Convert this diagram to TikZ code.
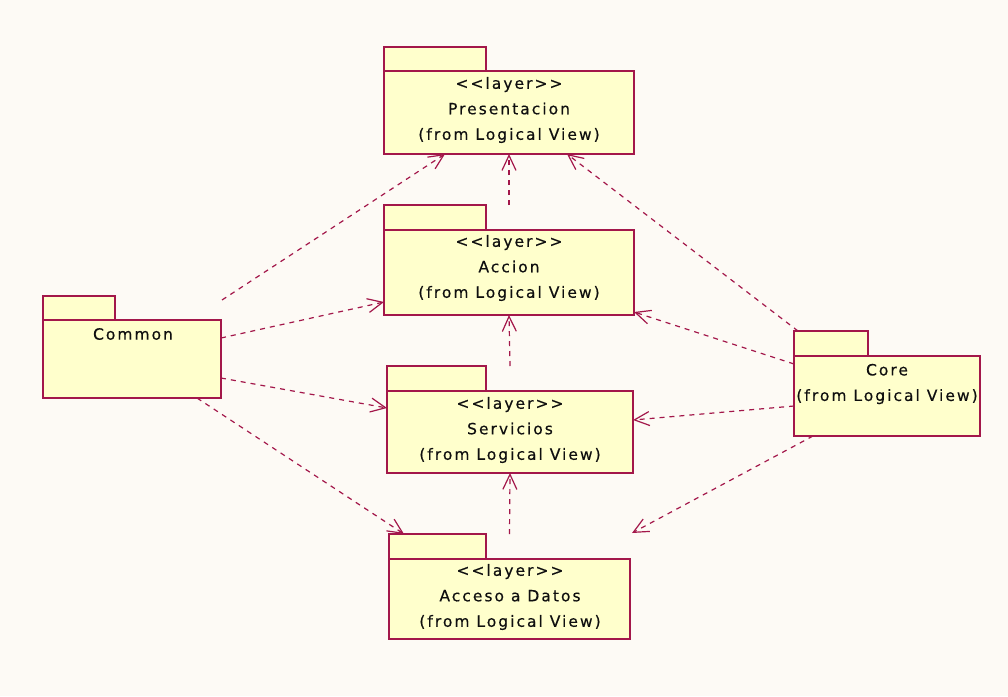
\documentclass[tikz,border=0pt]{standalone}
\usepackage{fontspec}
\setmainfont{DejaVu Sans}[LetterSpace=13, FakeBold=0.4]
\usetikzlibrary{arrows.meta}
\definecolor{pkline}{RGB}{163,23,74}
\definecolor{pkfill}{RGB}{255,255,204}
\definecolor{paper}{RGB}{253,250,245}
\definecolor{ink}{RGB}{15,15,15}
\tikzset{
  pkbody/.style={draw=pkline, fill=pkfill, line width=2pt, inner sep=0pt, outer sep=0pt, anchor=north west},
  pktab/.style={draw=pkline, fill=pkfill, line width=2pt, inner sep=0pt, outer sep=0pt, anchor=south west},
  lbl/.style={font=\fontsize{15.5}{25.5}\selectfont, text=ink, align=center, inner sep=0pt},
  dep/.style={draw=pkline, line width=1.2pt, dash pattern=on 5pt off 5pt,
    -{Straight Barb[length=15pt,width=14pt,line width=1.2pt]}}
}
\begin{document}
\begin{tikzpicture}[x=1pt,y=-1pt]
\fill[paper] (0,0) rectangle (1008,696);
\useasboundingbox (0,0) rectangle (1008,696);

% layer packages
\node[pkbody, minimum width=250pt, minimum height=83pt] (pres) at (384,71) {};
\node[pktab, minimum width=102pt, minimum height=24pt] (presTab) at (pres.north west) {};
\node[lbl] (presL) at (509,110) {<{}<layer>{}>\\Presentacion\\(from Logical View)};

\node[pkbody, minimum width=250pt, minimum height=85pt] (acc) at (384,230) {};
\node[pktab, minimum width=102pt, minimum height=25pt] (accTab) at (acc.north west) {};
\node[lbl] (accL) at (509,268) {<{}<layer>{}>\\Accion\\(from Logical View)};

\node[pkbody, minimum width=246pt, minimum height=82pt] (serv) at (387,391) {};
\node[pktab, minimum width=99pt, minimum height=25pt] (servTab) at (serv.north west) {};
\node[lbl] (servL) at (510,430) {<{}<layer>{}>\\Servicios\\(from Logical View)};

\node[pkbody, minimum width=241pt, minimum height=80pt] (datos) at (389,559) {};
\node[pktab, minimum width=97pt, minimum height=25pt] (datosTab) at (datos.north west) {};
\node[lbl] (datosL) at (510,597) {<{}<layer>{}>\\Acceso a Datos\\(from Logical View)};

% side packages
\node[pkbody, minimum width=178pt, minimum height=78pt] (common) at (43,320) {};
\node[pktab, minimum width=72pt, minimum height=24pt] (commonTab) at (common.north west) {};
\node[lbl] (commonL) at (133,334) {Common};

\node[pkbody, minimum width=186pt, minimum height=80pt] (core) at (794,356) {};
\node[pktab, minimum width=74pt, minimum height=25pt] (coreTab) at (core.north west) {};
\node[lbl] (coreL) at (887,384) {Core\\(from Logical View)};

% free ends
\coordinate (cFree) at (222,300);
\coordinate (dFree) at (632,533);

% dependencies from Common
\draw[dep] (cFree) -- ([xshift=61pt]pres.south west);
\draw[dep] ([yshift=-18pt]common.north east) -- ([yshift=13pt]acc.south west);
\draw[dep] ([yshift=20pt]common.south east) -- ([yshift=-17pt]serv.north west);
\draw[dep] ([xshift=-24pt]common.south east) -- ([xshift=15pt]datosTab.north west);

% dependencies between layers
\draw[dep] ([yshift=25pt]acc.north) -- (pres.south);
\draw[dep] ([yshift=25pt]serv.north) -- (acc.south);
\draw[dep] ([yshift=25pt]datos.north) -- (serv.south);

% dependencies from Core
\draw[dep] ([xshift=4pt]coreTab.north west) -- ([xshift=-67pt]pres.south east);
\draw[dep] ([yshift=-8pt]core.north west) -- ([yshift=3pt]acc.south east);
\draw[dep] ([yshift=-50pt]core.north west) -- ([yshift=-29pt]serv.north east);
\draw[dep] ([xshift=19pt]core.south west) -- (dFree);
\end{tikzpicture}
\end{document}
